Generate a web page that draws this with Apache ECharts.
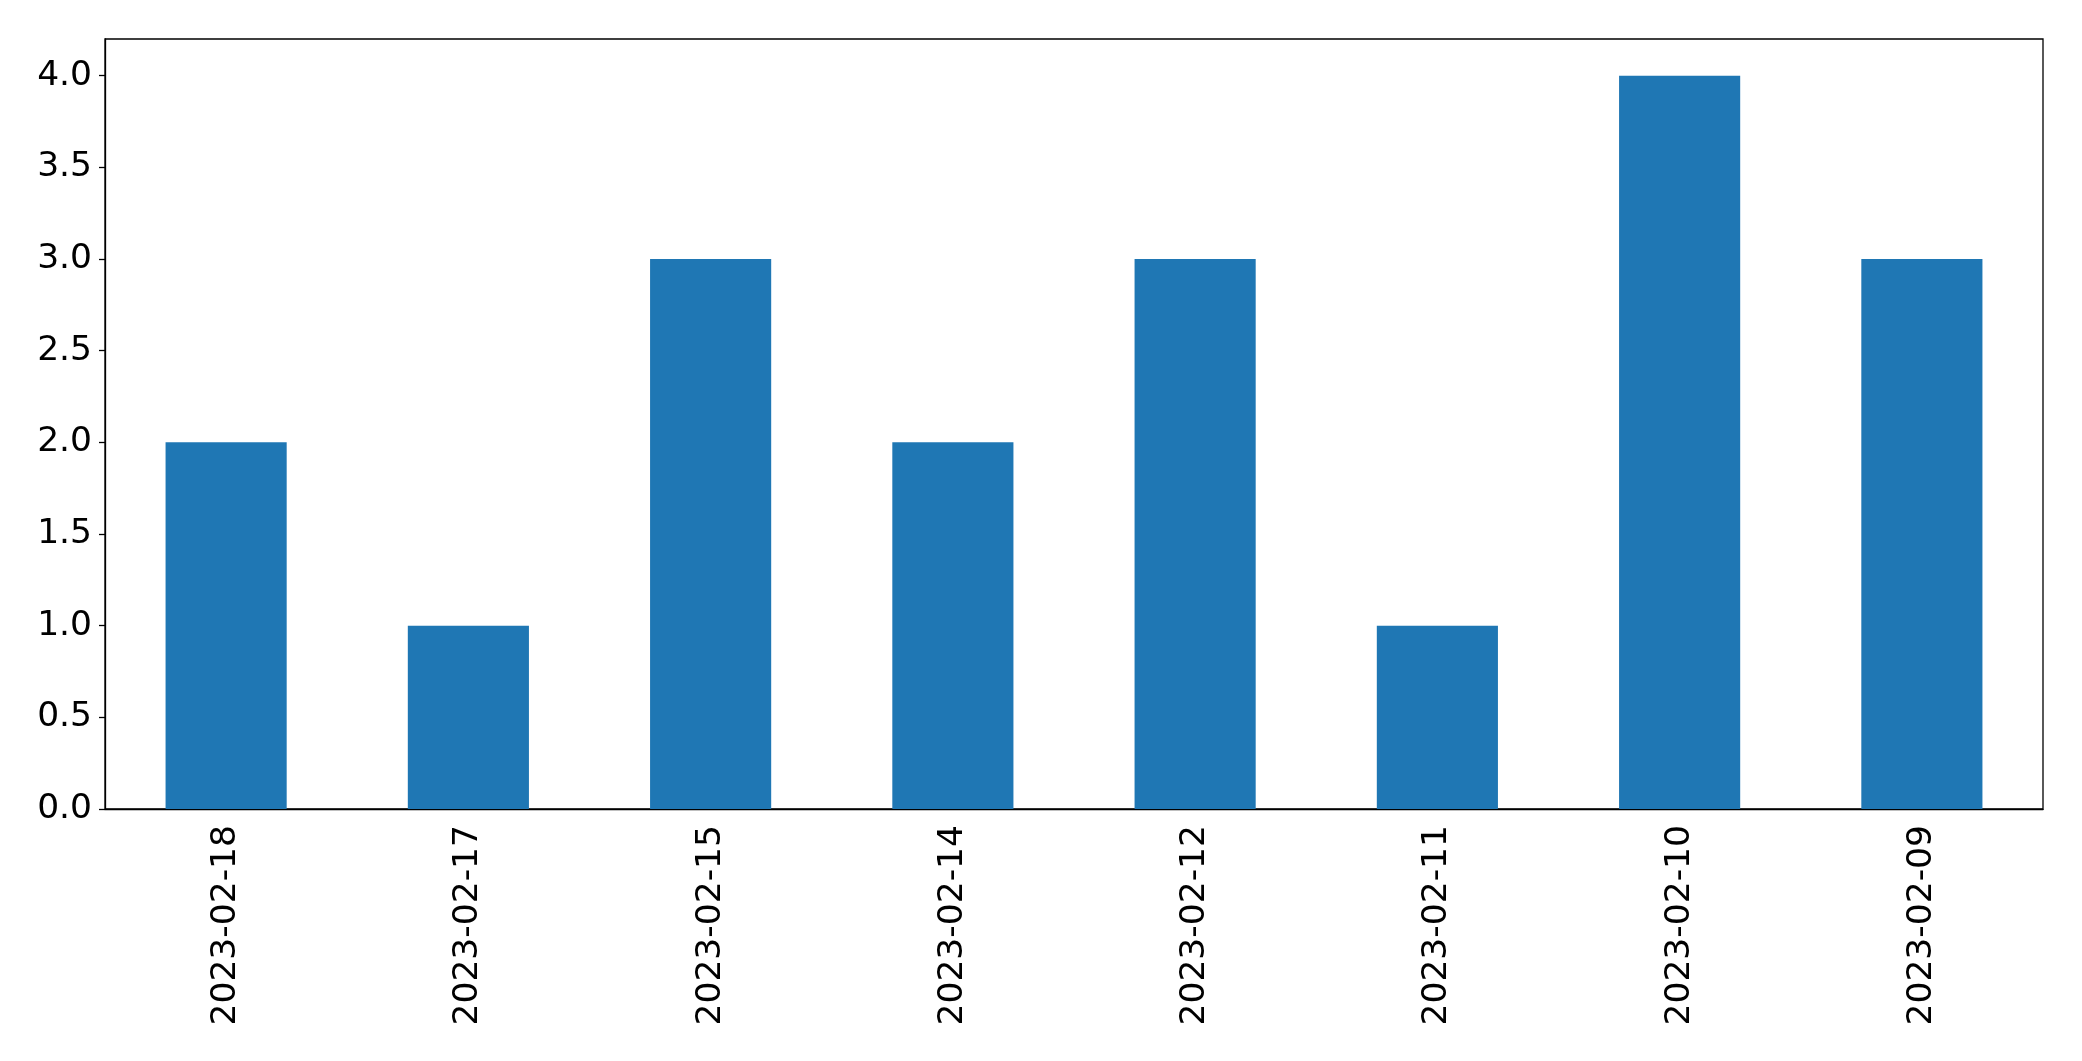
<!DOCTYPE html>
<html>
<head>
<meta charset="utf-8">
<script src="https://cdn.jsdelivr.net/npm/echarts@6/dist/echarts.min.js"></script>
<style>html,body{margin:0;padding:0;background:#fff}#c{width:2082px;height:1061px}</style>
</head>
<body>
<div id="c"></div>
<script>
const categories = ['2023-02-18','2023-02-17','2023-02-15','2023-02-14','2023-02-12','2023-02-11','2023-02-10','2023-02-09'];
const values = [2, 1, 3, 2, 3, 1, 4, 3];

const chart = echarts.init(document.getElementById('c'), null, {renderer: 'canvas'});
const font = 'DejaVu Sans';
chart.setOption({
  animation: false,
  backgroundColor: '#fff',
  grid: {left: 105, right: 39, top: 39, bottom: 252, show: true, borderColor: '#000', borderWidth: 1.3, backgroundColor: 'transparent'},
  xAxis: {
    type: 'category',
    data: categories,
    axisLine: {lineStyle: {color: '#000', width: 1.3}},
    axisTick: {alignWithLabel: true, length: 6, lineStyle: {color: '#000', width: 1.3}},
    axisLabel: {rotate: 90, margin: 16, fontFamily: font, fontSize: 34.5, color: '#000'},
    splitLine: {show: false}
  },
  yAxis: {
    type: 'value',
    min: 0, max: 4.2, interval: 0.5,
    axisLine: {show: true, lineStyle: {color: '#000', width: 1.3}},
    axisTick: {show: true, length: 6, lineStyle: {color: '#000', width: 1.3}},
    axisLabel: {showMaxLabel: false, margin: 13, padding: [6, 0, 0, 0], fontFamily: font, fontSize: 34.5, color: '#000',
      formatter: v => v.toFixed(1)},
    splitLine: {show: false}
  },
  series: [{
    type: 'bar',
    data: values,
    barWidth: '50%',
    itemStyle: {color: '#1f77b4'}
  }]
});
</script>
</body>
</html>
